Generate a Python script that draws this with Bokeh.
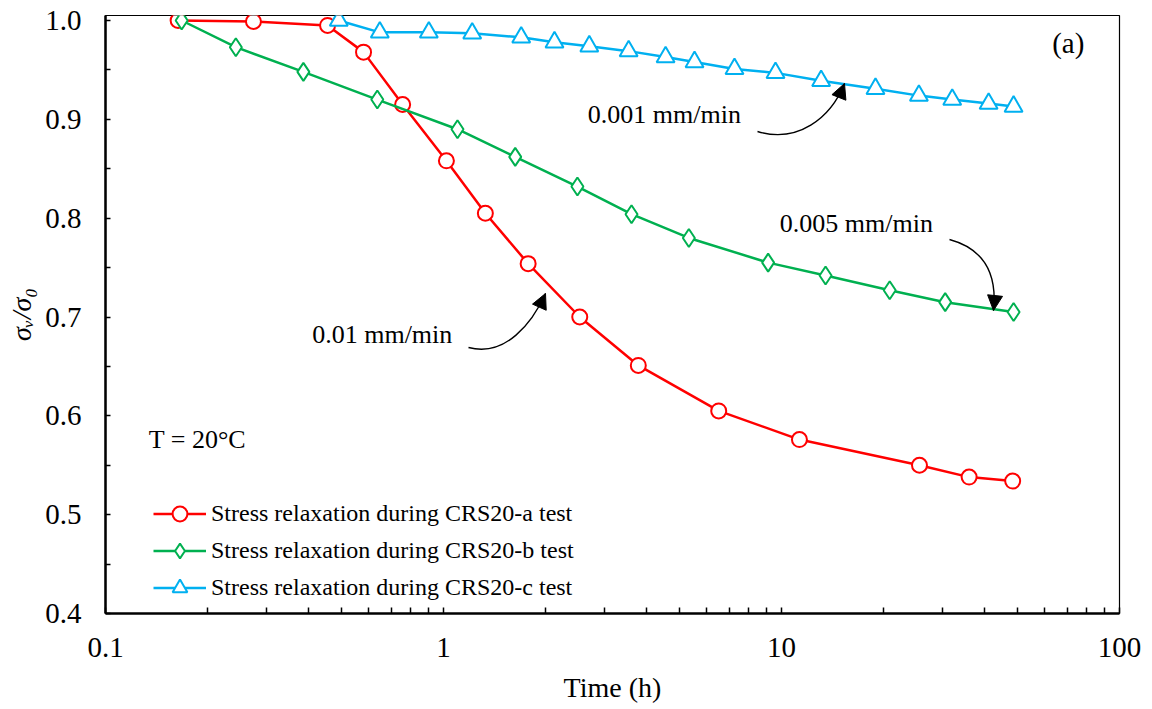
import math
from bokeh.plotting import figure
from bokeh.models import (Range1d, FixedTicker, CustomJSTickFormatter, PrintfTickFormatter,
                          Legend, LegendItem, Label, Arrow, NormalHead)
from bokeh.embed import file_html
from bokeh.resources import INLINE

# ---------------- data ----------------
time_a = [0.164, 0.274, 0.454, 0.580, 0.757, 1.02, 1.33, 1.78, 2.53, 3.77, 6.52, 11.3, 25.6, 35.9, 48.3]
ratio_a = [1.000, 0.999, 0.995, 0.968, 0.915, 0.858, 0.805, 0.754, 0.700, 0.651, 0.605, 0.576, 0.550, 0.538, 0.534]

time_b = [0.168, 0.243, 0.385, 0.637, 1.10, 1.63, 2.49, 3.60, 5.32, 9.13, 13.5, 20.9, 30.5, 48.6]
ratio_b = [1.000, 0.973, 0.948, 0.920, 0.890, 0.862, 0.832, 0.804, 0.780, 0.755, 0.742, 0.727, 0.715, 0.705]

time_c = [0.490, 0.648, 0.905, 1.216, 1.698, 2.13, 2.70, 3.53, 4.54, 5.53, 7.26, 9.6, 13.1, 18.97, 25.5, 32.0, 41.0, 48.6]
ratio_c = [1.000, 0.988, 0.988, 0.987, 0.983, 0.978, 0.974, 0.969, 0.963, 0.958, 0.951, 0.947, 0.939, 0.931, 0.924, 0.920, 0.916, 0.913]

series_labels = ["Stress relaxation during CRS20-a test",
                 "Stress relaxation during CRS20-b test",
                 "Stress relaxation during CRS20-c test"]
rate_labels = ["0.01 mm/min", "0.005 mm/min", "0.001 mm/min"]
x_ticks = [0.1, 1, 10, 100]
y_ticks = [0.4, 0.5, 0.6, 0.7, 0.8, 0.9, 1.0]

# ---------------- layout ----------------
W, H = 1152, 709
FL, FR, FT, FB = 105, 1119, 15, 613          # frame edges in canvas pixels
X_LO, X_HI = 0.1, 100.0
Y_LO = 0.4
Y_HI = 1.0 + (20 - FT) * 0.6 / (FB - 20)

def px2x(px):
    return 10 ** (math.log10(X_LO) + (px - FL) / (FR - FL) * (math.log10(X_HI) - math.log10(X_LO)))

def py2y(py):
    return Y_LO + (FB - py) / (FB - FT) * (Y_HI - Y_LO)

FONT = "Liberation Serif"
RED, GREEN, BLUE = "#FF0000", "#00B050", "#00B0F0"

p = figure(width=W, height=H, x_axis_type="log",
           x_range=Range1d(X_LO, X_HI), y_range=Range1d(Y_LO, Y_HI),
           output_backend="svg", toolbar_location=None, title=None,
           min_border_left=FL, min_border_right=W - FR,
           min_border_top=FT, min_border_bottom=H - FB)
p.background_fill_color = "white"
p.border_fill_color = "white"
p.outline_line_color = "black"
p.outline_line_width = 1.2
p.xgrid.visible = False
p.ygrid.visible = False

# x axis
minor_x = [m * 10 ** e for e in (-1, 0, 1) for m in range(2, 10)]
p.xaxis.ticker = FixedTicker(ticks=x_ticks, minor_ticks=minor_x)
p.xaxis.formatter = CustomJSTickFormatter(code="return String(Number(tick.toPrecision(3)))")
p.xaxis.axis_label = "Time (h)"
# y axis
minor_y = [round(v + 0.05, 2) for v in y_ticks[:-1]]
p.yaxis.ticker = FixedTicker(ticks=y_ticks, minor_ticks=minor_y)
p.yaxis.formatter = PrintfTickFormatter(format="%.1f")
p.yaxis.axis_label = "σᵥ/σ₀"

for ax, tin in ((p.xaxis, 6), (p.yaxis, 5)):
    ax.axis_line_color = "black"
    ax.axis_line_width = 2.5
    ax.major_tick_in = tin
    ax.major_tick_out = 0
    ax.minor_tick_in = tin
    ax.minor_tick_out = 0
    ax.major_tick_line_color = "black"
    ax.minor_tick_line_color = "black"
    ax.major_tick_line_width = 1.5
    ax.minor_tick_line_width = 1.5
    ax.major_label_text_font = FONT
    ax.major_label_text_font_size = "29px"
    ax.major_label_text_color = "black"
    ax.axis_label_text_font = FONT
    ax.axis_label_text_font_size = "28px"
    ax.axis_label_text_color = "black"
p.xaxis.axis_label_text_font_style = "normal"
p.yaxis.axis_label_text_font_style = "italic"
p.xaxis.major_label_standoff = 24
p.xaxis.axis_label_standoff = 12
p.yaxis.major_label_standoff = 24
p.yaxis.axis_label_standoff = 5

# ---------------- series ----------------
def draw(xs, ys, color, marker, size):
    ln = p.line(xs, ys, line_color=color, line_width=2.5)
    sc = p.scatter(xs, ys, marker=marker, size=size, line_color=color,
                   line_width=2, fill_color="white")
    return [ln, sc]

ra = draw(time_a, ratio_a, RED, "circle", 15)
rb = draw(time_b, ratio_b, GREEN, "diamond", 18)
rc = draw(time_c, ratio_c, BLUE, "triangle", 18)

legend = Legend(items=[LegendItem(label=series_labels[0], renderers=ra),
                       LegendItem(label=series_labels[1], renderers=rb),
                       LegendItem(label=series_labels[2], renderers=rc)],
                location=(153 - FL, FB - 605.5), glyph_width=53, glyph_height=37,
                label_height=37, label_standoff=5, spacing=0, padding=0, margin=0,
                border_line_alpha=0, background_fill_alpha=0,
                label_text_font=FONT, label_text_font_size="24px", label_text_color="black")
p.add_layout(legend)

# ---------------- annotations ----------------
SHIFT = 9   # compensation so that the glyph baseline lands where intended

def label(px, py, text, size="26px"):
    p.add_layout(Label(x=px2x(px), y=py2y(py - SHIFT), text=text, text_font=FONT,
                       text_font_size=size, text_color="black",
                       text_align="left", text_baseline="alphabetic"))

label(311.7, 343.3, rate_labels[0])
label(779.3, 231.7, rate_labels[1])
label(587.3, 123.3, rate_labels[2])
label(148.3, 448.3, "T = 20°C")
label(1051.7, 51.0, "(a)", "29px")

# curved arrows (pixel-space geometry converted to data coords)
arrows = [((468, 347), (505, 357), (532, 322), (545, 293)),
          ((757, 131), (797, 143), (830, 118), (844, 83)),
          ((949, 239), (982, 248), (997, 272), (993, 310))]
for p0, c0, c1, p1 in arrows:
    p.bezier(x0=[px2x(p0[0])], y0=[py2y(p0[1])], x1=[px2x(p1[0])], y1=[py2y(p1[1])],
             cx0=[px2x(c0[0])], cy0=[py2y(c0[1])], cx1=[px2x(c1[0])], cy1=[py2y(c1[1])],
             line_color="black", line_width=1.4)
    dx, dy = p1[0] - c1[0], p1[1] - c1[1]
    n = math.hypot(dx, dy)
    sx, sy = p1[0] - dx / n * 6, p1[1] - dy / n * 6
    p.add_layout(Arrow(end=NormalHead(size=15, fill_color="black", line_color="black", line_width=1),
                       x_start=px2x(sx), y_start=py2y(sy), x_end=px2x(p1[0]), y_end=py2y(p1[1]),
                       line_color="black", line_width=1.4))

open("out.html", "w").write(file_html(p, INLINE))
